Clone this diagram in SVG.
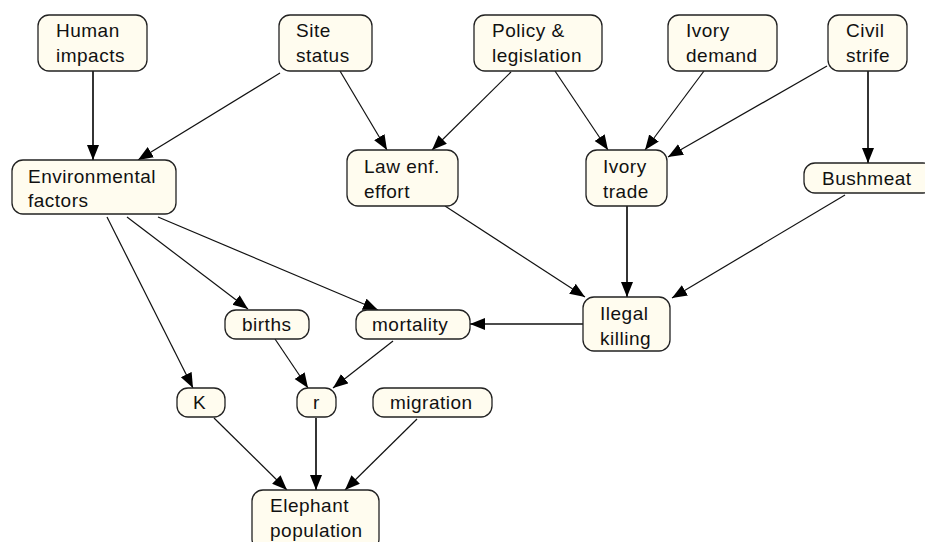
<svg xmlns="http://www.w3.org/2000/svg" width="925" height="542" viewBox="0 0 925 542">
<style>
.n rect{fill:#FFFCEF;stroke:#222;stroke-width:1.3}
.n text{font-family:"Liberation Sans",Arial,sans-serif;font-size:19px;fill:#111;letter-spacing:0.5px}
.e line{stroke:#111;stroke-width:1.2;marker-end:url(#ah)}
.e line.v{stroke-width:1.7}
</style>
<defs>
<marker id="ah" markerUnits="userSpaceOnUse" markerWidth="16" markerHeight="13" refX="15" refY="6" orient="auto">
<path d="M0,0 L15,6 L0,12 z" fill="#000"/>
</marker>
</defs>
<rect width="925" height="542" fill="#fff"/>
<g id="edges" class="e">
<line class="v" x1="93" y1="71" x2="93" y2="160"/>
<line x1="280" y1="73" x2="138" y2="160"/>
<line x1="340" y1="71" x2="387" y2="150"/>
<line x1="511" y1="72" x2="432" y2="150"/>
<line x1="555" y1="71" x2="608" y2="150"/>
<line x1="704" y1="71" x2="645" y2="150"/>
<line x1="827" y1="66" x2="668" y2="157"/>
<line class="v" x1="868" y1="71" x2="868" y2="163"/>
<line x1="445" y1="206" x2="585" y2="297"/>
<line class="v" x1="627" y1="206" x2="627" y2="297"/>
<line x1="845" y1="195" x2="672" y2="298"/>
<line class="v" x1="583" y1="324" x2="470" y2="324"/>
<line x1="107" y1="217" x2="193" y2="388"/>
<line x1="127" y1="217" x2="248" y2="309"/>
<line x1="158" y1="217" x2="378" y2="310"/>
<line x1="275" y1="339" x2="308" y2="388"/>
<line x1="393" y1="341" x2="333" y2="388"/>
<line x1="214" y1="418" x2="287" y2="490"/>
<line class="v" x1="316" y1="418" x2="316" y2="490"/>
<line x1="417" y1="419" x2="345" y2="490"/>
</g>
<g id="human_impacts" class="n"><rect x="38" y="15" width="109" height="56" rx="11"/><text x="56" y="37">Human</text><text x="56" y="62">impacts</text></g>
<g id="site_status" class="n"><rect x="279" y="15" width="93" height="56" rx="11"/><text x="296" y="37">Site</text><text x="296" y="62">status</text></g>
<g id="policy" class="n"><rect x="474" y="15" width="128" height="56" rx="11"/><text x="492" y="37">Policy &amp;</text><text x="492" y="62">legislation</text></g>
<g id="ivory_demand" class="n"><rect x="668" y="15" width="109" height="56" rx="11"/><text x="686" y="37">Ivory</text><text x="686" y="62">demand</text></g>
<g id="civil_strife" class="n"><rect x="828" y="15" width="79" height="56" rx="11"/><text x="846" y="37">Civil</text><text x="846" y="62">strife</text></g>
<g id="environmental_factors" class="n"><rect x="12" y="160" width="164" height="54" rx="11"/><text x="28" y="183">Environmental</text><text x="28" y="207">factors</text></g>
<g id="law_enf" class="n"><rect x="347" y="150" width="111" height="56" rx="11"/><text x="364" y="173">Law enf.</text><text x="364" y="198">effort</text></g>
<g id="ivory_trade" class="n"><rect x="586" y="150" width="81" height="56" rx="11"/><text x="603" y="173">Ivory</text><text x="603" y="198">trade</text></g>
<g id="bushmeat" class="n"><rect x="804" y="163" width="130" height="30" rx="11"/><text x="822" y="185">Bushmeat</text></g>
<g id="illegal_killing" class="n"><rect x="583" y="297" width="87" height="54" rx="11"/><text x="600" y="320">Ilegal</text><text x="600" y="345">killing</text></g>
<g id="births" class="n"><rect x="225" y="310" width="84" height="29" rx="11"/><text x="242" y="331">births</text></g>
<g id="mortality" class="n"><rect x="356" y="310" width="114" height="29" rx="11"/><text x="372" y="331">mortality</text></g>
<g id="K" class="n"><rect x="177" y="388" width="48" height="29" rx="11"/><text x="193" y="409">K</text></g>
<g id="r" class="n"><rect x="297" y="388" width="39" height="29" rx="11"/><text x="313" y="409">r</text></g>
<g id="migration" class="n"><rect x="373" y="388" width="119" height="29" rx="11"/><text x="390" y="409">migration</text></g>
<g id="elephant_population" class="n"><rect x="252" y="490" width="127" height="60" rx="11"/><text x="270" y="512">Elephant</text><text x="270" y="537">population</text></g>
</svg>
